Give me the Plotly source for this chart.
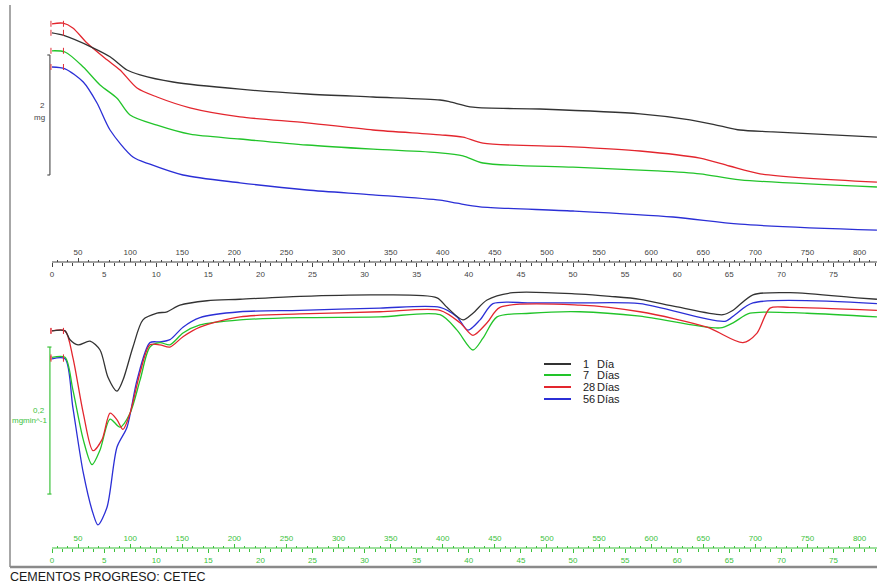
import plotly.graph_objects as go

W, H = 877, 588

# Heating programme: temperature (°C) = T0 + RATE * time (min)
T0, RATE = 25.0, 10.0

# ---------------- TGA curves (mass, mg; relative offsets as plotted) ----------------
tga_1_t = [0, 1.06, 3.93, 5.57, 7.2, 8.45, 11.61, 18.04, 24.47, 30.81, 37.24, 38.2, 40.4, 46.83, 56.43, 61.23, 64.1, 66.03, 69.19, 79.17]
tga_1_m = [3.82, 3.78, 3.57, 3.42, 3.2, 3.12, 3.0, 2.88, 2.8, 2.75, 2.7, 2.67, 2.58, 2.55, 2.47, 2.37, 2.27, 2.2, 2.17, 2.08]

tga_7_t = [0, 1.25, 3.0, 4.61, 6.24, 7.49, 10.08, 13.24, 18.04, 24.47, 30.81, 37.24, 39.44, 41.36, 50.0, 58.06, 62.19, 66.03, 79.17]
tga_7_m = [3.52, 3.5, 3.25, 2.95, 2.73, 2.45, 2.28, 2.13, 2.05, 1.95, 1.88, 1.82, 1.77, 1.65, 1.58, 1.52, 1.47, 1.37, 1.25]

tga_28_t = [0, 1.06, 2.0, 3.36, 5.28, 6.53, 8.16, 10.08, 13.24, 18.04, 24.47, 30.81, 37.24, 39.44, 41.36, 50.0, 56.43, 62.19, 65.0, 67.95, 79.17]
tga_28_m = [3.97, 3.98, 3.9, 3.65, 3.37, 3.2, 2.9, 2.75, 2.57, 2.42, 2.32, 2.2, 2.12, 2.08, 1.98, 1.92, 1.85, 1.73, 1.6, 1.47, 1.33]

tga_56_t = [0, 1.25, 3.0, 4.32, 5.57, 7.77, 9.4, 12.57, 18.04, 24.47, 30.81, 37.24, 38.87, 41.08, 50.0, 59.6, 66.03, 79.17]
tga_56_m = [3.25, 3.22, 3.0, 2.65, 2.2, 1.75, 1.63, 1.45, 1.32, 1.2, 1.12, 1.03, 0.98, 0.92, 0.85, 0.75, 0.63, 0.53]

# ---------------- DTG curves (mg/min) ----------------
dtg_1_t = [0, 1.25, 1.73, 2.5, 3.65, 4.61, 5.37, 6.24, 6.81, 7.77, 8.73, 10.08, 11.04, 12.28, 14.88, 18.04, 23.8, 31.48, 36.95, 37.91, 39.44, 40.4, 41.75, 44.24, 50.67, 53.55, 56.43, 60.0, 64.4, 65.36, 67.27, 70.83, 77.26, 79.17]
dtg_1_v = [-0.042, -0.042, -0.054, -0.061, -0.056, -0.068, -0.105, -0.124, -0.109, -0.064, -0.027, -0.018, -0.016, -0.007, -0.001, 0.001, 0.005, 0.007, 0.003, -0.010, -0.027, -0.018, 0.0, 0.010, 0.008, 0.005, 0.001, -0.0095, -0.020, -0.014, 0.007, 0.010, 0.003, 0.001]

dtg_7_t = [0, 1.25, 2.0, 3.0, 3.84, 4.61, 5.57, 6.53, 7.49, 8.45, 9.4, 10.36, 11.32, 12.57, 14.2, 18.04, 23.8, 31.48, 37.24, 38.87, 40.4, 41.36, 42.71, 45.87, 50.67, 56.43, 64.11, 65.36, 66.99, 72.46, 79.17]
dtg_7_v = [-0.078, -0.078, -0.122, -0.190, -0.224, -0.204, -0.162, -0.173, -0.154, -0.109, -0.064, -0.058, -0.061, -0.045, -0.034, -0.027, -0.024, -0.023, -0.020, -0.041, -0.068, -0.052, -0.023, -0.018, -0.016, -0.022, -0.038, -0.031, -0.018, -0.018, -0.023]

dtg_28_t = [0, 1.25, 2.0, 3.0, 3.93, 4.8, 5.57, 6.24, 6.81, 7.49, 8.45, 9.4, 10.36, 11.32, 12.57, 14.2, 18.04, 23.8, 31.48, 37.24, 39.16, 40.4, 41.75, 42.99, 50.67, 56.43, 62.86, 66.31, 67.66, 68.91, 70.83, 79.17]
dtg_28_v = [-0.042, -0.042, -0.078, -0.154, -0.205, -0.190, -0.154, -0.163, -0.176, -0.154, -0.099, -0.061, -0.061, -0.064, -0.050, -0.037, -0.023, -0.019, -0.016, -0.014, -0.031, -0.048, -0.031, -0.010, -0.007, -0.016, -0.037, -0.058, -0.045, -0.011, -0.010, -0.014]

dtg_56_t = [0, 1.25, 2.0, 3.0, 3.93, 4.41, 5.28, 6.24, 7.2, 8.16, 9.4, 10.36, 11.32, 12.57, 14.2, 18.04, 23.8, 31.48, 37.24, 38.87, 39.92, 41.08, 42.32, 45.87, 50.67, 56.43, 64.59, 65.55, 67.27, 79.17]
dtg_56_v = [-0.080, -0.080, -0.146, -0.235, -0.290, -0.306, -0.282, -0.200, -0.173, -0.109, -0.058, -0.057, -0.054, -0.037, -0.024, -0.016, -0.014, -0.011, -0.010, -0.023, -0.041, -0.027, -0.005, -0.004, -0.004, -0.005, -0.029, -0.020, -0.004, -0.005]

series_names = ["1  Día", "7  Días", "28 Días", "56 Días"]
series_colors = ["#333333", "#22c42a", "#e3262e", "#2b2fd6"]

# Axis ticks
time_major = list(range(0, 80, 5))
time_minor = [v for v in range(1, 80) if v % 5]
temp_major = list(range(50, 801, 50))
temp_minor = [v for v in range(30, 811, 10) if v % 50]

# Scale bars
mass_bar = [1.45, 3.45]        # 2 mg
dtg_bar = [-0.264, -0.064]     # 0,2 mg/min

# ---------------- geometry ----------------
t_range = [-52 / 10.42, (W - 52) / 10.42]
T_range = [T0 + RATE * t_range[0], T0 + RATE * t_range[1]]
pos_mid = 1 - 262 / H
pos_bot = 1 - 548 / H
y1_range = [0, 262 / 60]
y2_range = [(300 - 548) / 735, (300 - 262) / 735]

fig = go.Figure()

upper = [(tga_1_t, tga_1_m), (tga_7_t, tga_7_m), (tga_28_t, tga_28_m), (tga_56_t, tga_56_m)]
lower = [(dtg_1_t, dtg_1_v), (dtg_7_t, dtg_7_v), (dtg_28_t, dtg_28_v), (dtg_56_t, dtg_56_v)]

order = [3, 1, 2, 0]
for i in order:
    t, m = upper[i]
    fig.add_trace(go.Scatter(x=t, y=m, mode="lines", xaxis="x", yaxis="y",
                             line=dict(color=series_colors[i], width=1.3, shape="spline", smoothing=0.8),
                             showlegend=False, hoverinfo="skip"))
for i in order:
    t, v = lower[i]
    fig.add_trace(go.Scatter(x=t, y=v, mode="lines", xaxis="x", yaxis="y2",
                             line=dict(color=series_colors[i], width=1.3, shape="spline", smoothing=0.8),
                             showlegend=False, hoverinfo="skip"))

dark = "#444444"
green = "#3cc23c"
tickfont_d = dict(family="Liberation Sans, Arial", size=8, color=dark)
tickfont_g = dict(family="Liberation Sans, Arial", size=8, color=green)

def time_axis(pos, col, font, overlay=None):
    d = dict(range=t_range, domain=[0, 1], anchor="free", position=pos, side="bottom",
             showgrid=False, zeroline=False, showline=False,
             tickmode="array", tickvals=time_major, ticktext=[str(v) for v in time_major],
             ticks="outside", ticklen=4, tickwidth=1, tickcolor=col, tickfont=font,
             minor=dict(tickmode="array", tickvals=time_minor, ticks="outside", ticklen=2.5,
                        tickwidth=1, tickcolor=col),
             fixedrange=True, automargin=False)
    if overlay:
        d["overlaying"] = overlay
    return d

def temp_axis(pos, col, font):
    return dict(range=T_range, domain=[0, 1], anchor="free", position=pos, side="top",
                overlaying="x", showgrid=False, zeroline=False, showline=False,
                tickmode="array", tickvals=temp_major, ticktext=[str(v) for v in temp_major],
                ticks="outside", ticklen=4, tickwidth=1, tickcolor=col, tickfont=font,
                minor=dict(tickmode="array", tickvals=temp_minor, ticks="outside", ticklen=2.5,
                           tickwidth=1, tickcolor=col),
                fixedrange=True, automargin=False)

shapes = []
# rulers
for pos, col in [(pos_mid, dark), (pos_bot, green)]:
    shapes.append(dict(type="line", xref="x", yref="paper", x0=0, x1=t_range[1],
                       y0=pos, y1=pos, line=dict(color=col, width=1)))
# frame
shapes.append(dict(type="line", xref="paper", yref="paper", x0=10 / W, x1=10 / W,
                   y0=1 - 567 / H, y1=1 - 5 / H, line=dict(color="#8a8a8a", width=1.5)))
shapes.append(dict(type="line", xref="paper", yref="paper", x0=10 / W, x1=1,
                   y0=1 - 567 / H, y1=1 - 567 / H, line=dict(color="#8a8a8a", width=2.5)))

# scale bars
bx = -0.2
shapes.append(dict(type="line", xref="x", yref="y", x0=bx, x1=bx, y0=mass_bar[0], y1=mass_bar[1],
                   line=dict(color="#555555", width=1.2)))
for yv in mass_bar:
    shapes.append(dict(type="line", xref="x", yref="y", x0=bx - 0.25, x1=bx, y0=yv, y1=yv,
                       line=dict(color="#555555", width=1.2)))
shapes.append(dict(type="line", xref="x", yref="y2", x0=bx, x1=bx, y0=dtg_bar[0], y1=dtg_bar[1],
                   line=dict(color=green, width=1.2)))
for yv in dtg_bar:
    shapes.append(dict(type="line", xref="x", yref="y2", x0=bx - 0.25, x1=bx + 0.15, y0=yv, y1=yv,
                       line=dict(color=green, width=1.2)))

# start brackets on each curve
mark = "#e0303a"
for (t, m) in upper:
    for xv in (t[0] - 0.1, t[0] + 1.1):
        shapes.append(dict(type="line", xref="x", yref="y", x0=xv, x1=xv, y0=m[0] - 0.05, y1=m[0] + 0.05,
                           line=dict(color=mark, width=1)))
for (t, v) in lower:
    for xv in (t[0] - 0.1, t[0] + 1.1):
        shapes.append(dict(type="line", xref="x", yref="y2", x0=xv, x1=xv, y0=v[0] - 0.004, y1=v[0] + 0.004,
                           line=dict(color=mark, width=1)))

annotations = []
lab_font = dict(family="Liberation Sans, Arial", size=8, color="#444444")
annotations.append(dict(text="2", xref="paper", yref="paper", x=47 / W, y=1 - 106 / H,
                        xanchor="right", yanchor="middle", showarrow=False, font=lab_font))
annotations.append(dict(text="mg", xref="paper", yref="paper", x=47 / W, y=1 - 117 / H,
                        xanchor="right", yanchor="middle", showarrow=False, font=lab_font))
gfont = dict(family="Liberation Sans, Arial", size=8, color=green)
annotations.append(dict(text="0,2", xref="paper", yref="paper", x=47 / W, y=1 - 410 / H,
                        xanchor="right", yanchor="middle", showarrow=False, font=gfont))
annotations.append(dict(text="mgmin^-1", xref="paper", yref="paper", x=49 / W, y=1 - 420 / H,
                        xanchor="right", yanchor="middle", showarrow=False, font=gfont))

# manual legend
leg_y = [364, 375, 387, 399]
leg_num = ["1", "7", "28", "56"]
leg_word = ["Día", "Días", "Días", "Días"]
lf = dict(family="Liberation Sans, Arial", size=11, color="#222222")
for i in range(4):
    yy = 1 - leg_y[i] / H
    shapes.append(dict(type="line", xref="paper", yref="paper", x0=544 / W, x1=571 / W, y0=yy, y1=yy,
                       line=dict(color=series_colors[i], width=2)))
    annotations.append(dict(text=leg_num[i], xref="paper", yref="paper", x=581 / W, y=yy,
                            xanchor="left", yanchor="middle", showarrow=False, font=lf))
    annotations.append(dict(text=leg_word[i], xref="paper", yref="paper", x=595 / W, y=yy,
                            xanchor="left", yanchor="middle", showarrow=False, font=lf))

annotations.append(dict(text="CEMENTOS PROGRESO: CETEC", xref="paper", yref="paper", x=8 / W, y=1 - 577 / H,
                        xanchor="left", yanchor="middle", showarrow=False,
                        font=dict(family="Liberation Sans, Arial", size=12.5, color="#1a1a1a")))

fig.update_layout(
    width=W, height=H,
    margin=dict(l=0, r=0, t=0, b=0),
    paper_bgcolor="white", plot_bgcolor="white",
    showlegend=False,
    xaxis=time_axis(pos_mid, dark, tickfont_d),
    xaxis2=temp_axis(pos_mid, dark, tickfont_d),
    xaxis3=time_axis(pos_bot, green, tickfont_g, overlay="x"),
    xaxis4=temp_axis(pos_bot, green, tickfont_g),
    yaxis=dict(domain=[pos_mid, 1], range=y1_range, visible=False, anchor="free", position=0, fixedrange=True),
    yaxis2=dict(domain=[pos_bot, pos_mid], range=y2_range, visible=False, anchor="free", position=0, fixedrange=True),
    shapes=shapes,
    annotations=annotations,
)

for ax in ["x2", "x3", "x4"]:
    rng = T_range if ax in ("x2", "x4") else t_range
    fig.add_trace(go.Scatter(x=[rng[0], rng[1]], y=[None, None], xaxis=ax, yaxis="y",
                             mode="lines", showlegend=False, hoverinfo="skip"))

fig.write_html("out.html", config={"displayModeBar": False},
               post_script="document.body.style.margin='0';document.body.style.overflow='hidden';")
